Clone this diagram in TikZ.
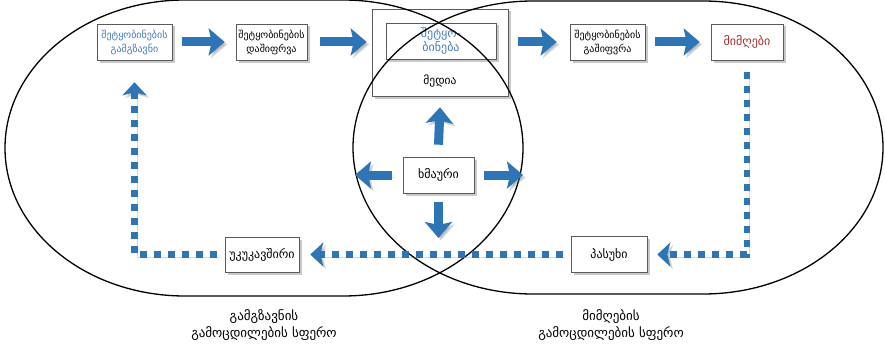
\documentclass[tikz,border=0pt]{standalone}
\usepackage{fontspec}
\setmainfont{DejaVu Sans}
\usetikzlibrary{arrows.meta,shadows}
\definecolor{ablue}{RGB}{46,117,182}
\definecolor{tblue}{RGB}{70,125,185}
\definecolor{tred}{RGB}{165,45,45}
\definecolor{bordergray}{RGB}{90,90,90}
\tikzset{
  box/.style={draw=bordergray, line width=0.6pt, fill=white, align=center, inner sep=1pt,
    font=\fontsize{10}{14}\selectfont,
    drop shadow={shadow xshift=2.5pt, shadow yshift=-2.5pt, opacity=0.35, fill=black!60}},
  onebox/.style={box, font=\fontsize{12}{14}\selectfont},
  arrowshadow/.style={preaction={draw=black!60, opacity=0.25, transform canvas={xshift=2.5pt,yshift=-2.5pt}}},
  blockarrow/.style={draw=ablue, line width=9pt, -{Stealth[length=16pt,width=27pt,inset=3pt]}, arrowshadow},
  dasharrow/.style={draw=ablue, line width=6.5pt, dash pattern=on 7pt off 7pt,
    -{Stealth[length=13pt,width=24pt,inset=3pt]}, arrowshadow},
  sphere/.style={draw=black, line width=1.3pt},
  plainlbl/.style={align=center, font=\fontsize{11.5}{14}\selectfont},
  spherelbl/.style={align=center, font=\fontsize{13}{17}\selectfont},
}
\begin{document}
\begin{tikzpicture}[x=1pt,y=1pt]
\useasboundingbox (0,0) rectangle (885,-345);
\fill[white] (0,0) rectangle (885,-345);

% media block (crossed by the sphere outlines)
\node[box, minimum width=136pt, minimum height=87pt] (media) at (440,-52.5) {};
\node[box, minimum width=110pt, minimum height=36pt, text=tblue, font=\fontsize{12}{14}\selectfont] (msg) at (441,-41) {შეტყო-\\ბინება};
\node[plainlbl] (medialbl) at (440,-81) {მედია};

% spheres of experience
\draw[sphere] (185,0) -- (343,0) arc[start angle=90,end angle=-90,x radius=180,y radius=148]
  -- (185,-296) arc[start angle=270,end angle=90,x radius=180,y radius=148] -- cycle;
\draw[sphere] (533,-1) -- (703,-1) arc[start angle=90,end angle=-90,x radius=180,y radius=146.5]
  -- (533,-294) arc[start angle=270,end angle=90,x radius=180,y radius=146.5] -- cycle;

% boxes
\node[box, minimum width=75pt, minimum height=36pt, text=tblue] (sender) at (134.5,-42) {შეტყობინების\\გამგზავნი};
\node[box, minimum width=71pt, minimum height=36pt] (enc) at (271.5,-42) {შეტყობინების\\დაშიფრვა};
\node[box, minimum width=75pt, minimum height=36pt] (dec) at (607.5,-42) {შეტყობინების\\გაშიფვრა};
\node[onebox, minimum width=72pt, minimum height=36pt, text=tred] (recv) at (747,-42) {მიმღები};
\node[onebox, minimum width=71pt, minimum height=36pt] (noise) at (438.5,-175) {ხმაური};
\node[onebox, minimum width=76pt, minimum height=36pt] (resp) at (609,-254.5) {პასუხი};
\node[onebox, minimum width=74pt, minimum height=35pt] (feed) at (262,-254.5) {უკუკავშირი};

% labels
\node[spherelbl] (lsph) at (264,-325) {გამგზავნის\\გამოცდილების სფერო};
\node[spherelbl] (rsph) at (611,-325) {მიმღების\\გამოცდილების სფერო};

% main flow
\draw[blockarrow] ([xshift=10pt]sender.east) -- ([xshift=-11pt]enc.west);
\draw[blockarrow] ([xshift=13pt]enc.east) -- ([xshift=-5pt]media.west |- enc.east);
\draw[blockarrow] ([xshift=10pt]media.east |- dec.west) -- ([xshift=-13pt]dec.west);
\draw[blockarrow] ([xshift=10pt]dec.east) -- ([xshift=-11pt]recv.west);

% noise
\coordinate (ndown) at (438.5,-238);
\coordinate (nleft) at (355,-175);
\coordinate (nright) at (523,-175);
\draw[blockarrow] ([yshift=12pt]noise.north) -- ([yshift=-11pt]media.south);
\draw[blockarrow] ([yshift=-9pt]noise.south) -- (ndown);
\draw[blockarrow] ([xshift=-11pt]noise.west) -- (nleft);
\draw[blockarrow] ([xshift=10pt]noise.east) -- (nright);

% feedback loop
\draw[dasharrow] ([yshift=-12pt]recv.south) |- ([xshift=10pt]resp.east);
\draw[dasharrow] ([xshift=-8pt]resp.west) -- ([xshift=11pt]feed.east);
\draw[dasharrow] ([xshift=-8pt]feed.west) -| ([yshift=-22pt]sender.south);
\end{tikzpicture}
\end{document}
